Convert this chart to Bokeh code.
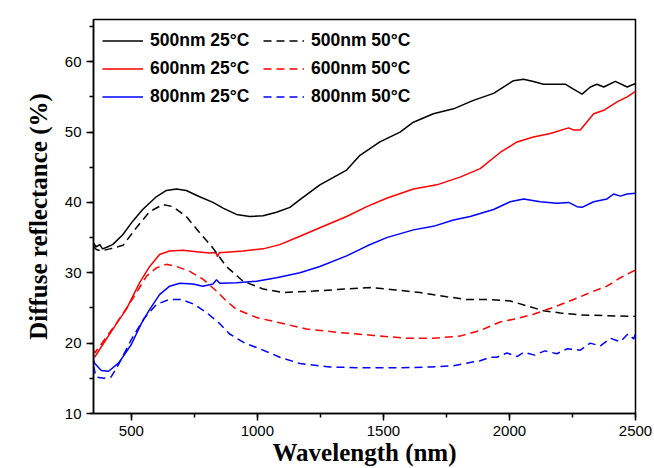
from bokeh.plotting import figure
from bokeh.models import Legend, LegendItem, SingleIntervalTicker, Range1d
from bokeh.embed import file_html
from bokeh.resources import INLINE

# ---- data (wavelength nm, diffuse reflectance %) ----
bs_x = [350, 361, 375, 386, 400, 426, 466, 505, 545, 599, 639, 679, 718, 771, 824, 864, 917, 970,
        1023, 1076, 1129, 1169, 1248, 1354, 1407, 1486, 1566, 1619, 1698, 1778, 1857, 1937, 1976,
        2016, 2056, 2095, 2135, 2221, 2254, 2288, 2321, 2347, 2374, 2420, 2467, 2500]
bs_y = [34.2, 33.7, 34.0, 33.4, 33.6, 34.0, 35.4, 37.3, 39.0, 40.8, 41.7, 41.9, 41.7, 40.8, 40.0,
        39.2, 38.3, 38.0, 38.1, 38.6, 39.3, 40.4, 42.5, 44.6, 46.7, 48.6, 50.0, 51.4, 52.6, 53.3,
        54.5, 55.5, 56.4, 57.3, 57.5, 57.2, 56.8, 56.8, 56.1, 55.4, 56.4, 56.8, 56.4, 57.2, 56.4, 56.9]

rs_x = [350, 355, 394, 440, 480, 533, 573, 612, 652, 705, 758, 811, 835, 842, 850, 864, 943, 1023,
        1089, 1169, 1248, 1354, 1434, 1513, 1619, 1712, 1804, 1884, 1963, 2030, 2095, 2162, 2235,
        2254, 2281, 2334, 2374, 2427, 2467, 2500]
rs_y = [18.3, 18.0, 20.2, 22.7, 24.8, 28.6, 30.9, 32.6, 33.1, 33.2, 33.0, 32.8, 32.9, 32.3, 32.9,
        32.9, 33.1, 33.4, 34.0, 35.2, 36.4, 38.0, 39.4, 40.6, 41.9, 42.5, 43.6, 44.8, 47.1, 48.6,
        49.3, 49.8, 50.6, 50.3, 50.3, 52.6, 53.1, 54.3, 55.0, 55.8]

bls_x = [350, 355, 381, 410, 450, 500, 540, 573, 612, 652, 692, 745, 784, 824, 838, 851, 917, 997,
         1076, 1169, 1248, 1354, 1434, 1513, 1619, 1698, 1778, 1844, 1937, 2003, 2056, 2122, 2188,
         2235, 2268, 2288, 2334, 2387, 2413, 2440, 2467, 2500]
bls_y = [17.6, 17.1, 16.1, 16.0, 17.2, 19.8, 22.8, 24.8, 26.9, 28.1, 28.5, 28.4, 28.1, 28.4, 29.0,
         28.5, 28.6, 28.8, 29.3, 30.0, 30.9, 32.4, 33.8, 35.0, 36.1, 36.6, 37.5, 38.0, 39.0, 40.1,
         40.5, 40.1, 39.9, 40.0, 39.4, 39.3, 40.1, 40.5, 41.2, 40.9, 41.2, 41.3]

bd_x = [350, 361, 380, 414, 467, 520, 573, 626, 665, 718, 771, 824, 877, 943, 1023, 1102, 1222,
        1354, 1447, 1539, 1645, 1751, 1831, 1923, 2003, 2069, 2135, 2202, 2281, 2387, 2500]
bd_y = [33.8, 33.3, 33.1, 33.4, 33.9, 36.4, 38.7, 39.7, 39.4, 38.0, 35.7, 33.5, 30.9, 28.8, 27.7,
        27.2, 27.4, 27.7, 27.9, 27.6, 27.2, 26.6, 26.2, 26.2, 26.0, 25.3, 24.6, 24.3, 24.0, 23.9, 23.8]

rd_x = [350, 355, 400, 450, 500, 560, 599, 639, 679, 732, 784, 838, 877, 917, 1000, 1089, 1195,
        1328, 1460, 1593, 1698, 1804, 1884, 1963, 2016, 2095, 2175, 2254, 2321, 2387, 2440, 2500]
rd_y = [19.0, 18.6, 20.8, 23.3, 26.0, 29.5, 30.7, 31.2, 30.9, 30.2, 29.1, 27.4, 26.0, 24.8, 23.6,
        22.9, 22.0, 21.5, 21.1, 20.7, 20.7, 21.0, 21.8, 23.0, 23.4, 24.1, 25.1, 26.2, 27.2, 28.1,
        29.3, 30.4]

bld_x = [350, 360, 390, 420, 450, 500, 550, 600, 650, 700, 750, 800, 850, 890, 950, 1010, 1089,
         1169, 1288, 1420, 1553, 1685, 1778, 1884, 1923, 1950, 1990, 2030, 2056, 2100, 2140, 2188,
         2230, 2281, 2320, 2361, 2400, 2440, 2470, 2493, 2500]
bld_y = [16.8, 15.2, 15.0, 15.2, 17.0, 20.5, 23.5, 25.5, 26.2, 26.2, 25.5, 24.3, 22.8, 21.3, 20.0,
         19.2, 18.0, 17.1, 16.6, 16.5, 16.5, 16.6, 16.8, 17.5, 18.0, 18.0, 18.6, 18.1, 18.7, 18.3,
         18.9, 18.5, 19.2, 19.0, 20.0, 19.6, 20.7, 20.2, 21.3, 20.6, 21.4]

labels_25 = ["500nm 25°C", "600nm 25°C", "800nm 25°C"]
labels_50 = ["500nm 50°C", "600nm 50°C", "800nm 50°C"]

p = figure(width=654, height=468, output_backend="svg", toolbar_location=None,
           x_range=Range1d(350, 2500), y_range=Range1d(10, 66),
           min_border_left=93, min_border_right=19, min_border_top=19, min_border_bottom=53)
p.background_fill_color = "white"
p.border_fill_color = "white"
p.outline_line_color = "black"
p.outline_line_width = 1.5
p.xgrid.visible = False
p.ygrid.visible = False

DASH = "8 5"
lw = 1.5
r_bs = p.line(bs_x, bs_y, line_color="black", line_width=lw)
r_rs = p.line(rs_x, rs_y, line_color="red", line_width=lw)
r_bls = p.line(bls_x, bls_y, line_color="blue", line_width=lw)
r_bd = p.line(bd_x, bd_y, line_color="black", line_width=lw, line_dash=DASH)
r_rd = p.line(rd_x, rd_y, line_color="red", line_width=lw, line_dash=DASH)
r_bld = p.line(bld_x, bld_y, line_color="blue", line_width=lw, line_dash=DASH)

p.xaxis.ticker = SingleIntervalTicker(interval=500, num_minor_ticks=2)
p.yaxis.ticker = SingleIntervalTicker(interval=10, num_minor_ticks=2)
for ax in (p.xaxis[0], p.yaxis[0]):
    ax.axis_line_width = 1.5
    ax.axis_line_color = "black"
    ax.major_tick_line_width = 1.5
    ax.minor_tick_line_width = 1.5
    ax.major_tick_out = 7
    ax.major_tick_in = 0
    ax.minor_tick_out = 4
    ax.minor_tick_in = 0
    ax.major_label_text_font = "Liberation Sans"
    ax.major_label_text_font_size = "15px"
    ax.major_label_text_color = "black"
    ax.axis_label_text_font = "Liberation Serif"
    ax.axis_label_text_font_style = "bold"
    ax.axis_label_text_font_size = "25px"
    ax.axis_label_text_color = "black"

p.xaxis.axis_label = "Wavelength (nm)"
p.yaxis.axis_label = "Diffuse reflectance (%)"
p.xaxis.major_label_standoff = 5
p.xaxis.axis_label_standoff = 0
p.yaxis.major_label_standoff = 5
p.yaxis.axis_label_standoff = 10


def make_legend(items, loc):
    lg = Legend(items=items, location=loc, orientation="vertical")
    lg.border_line_color = None
    lg.background_fill_alpha = 0
    lg.padding = 0
    lg.margin = 0
    lg.spacing = 7
    lg.glyph_width = 41
    lg.glyph_height = 21
    lg.label_height = 21
    lg.label_standoff = 7
    lg.label_text_font = "Liberation Sans"
    lg.label_text_font_style = "bold"
    lg.label_text_font_size = "17.5px"
    lg.label_text_color = "black"
    return lg


lg1 = make_legend([LegendItem(label=labels_25[0], renderers=[r_bs]),
                   LegendItem(label=labels_25[1], renderers=[r_rs]),
                   LegendItem(label=labels_25[2], renderers=[r_bls])], (9, 306))
lg2 = make_legend([LegendItem(label=labels_50[0], renderers=[r_bd]),
                   LegendItem(label=labels_50[1], renderers=[r_rd]),
                   LegendItem(label=labels_50[2], renderers=[r_bld])], (170, 306))
p.add_layout(lg1)
p.add_layout(lg2)

open("out.html", "w").write(file_html(p, INLINE))
